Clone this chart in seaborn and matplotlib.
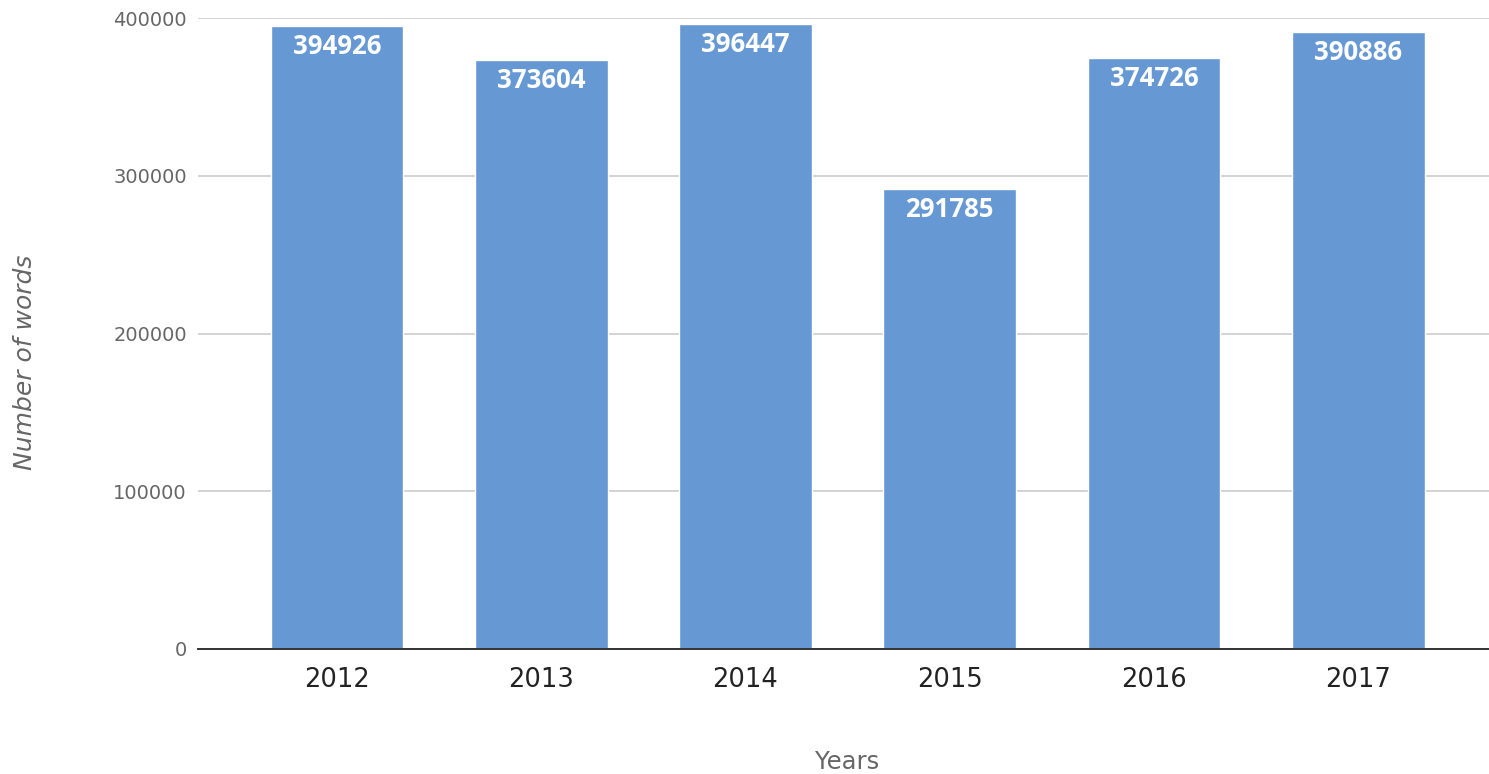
import pandas as pd
import seaborn as sns
from matplotlib import pyplot as plt

# words per year
years = ['2012', '2013', '2014', '2015', '2016', '2017']
words = [394926, 373604, 396447, 291785, 374726, 390886]
y_ticks = [0, 100000, 200000, 300000, 400000]

df = pd.DataFrame({'Years': years, 'Number of words': words})

sns.set_theme(style='white')
plt.rcParams['font.family'] = ['DejaVu Sans']

fig = plt.figure(figsize=(14.89, 7.74), dpi=100)
ax = fig.add_axes([198/1489, 1 - 649/774, 1 - 198/1489, (649 - 18)/774])

sns.barplot(data=df, x='Years', y='Number of words', color='#6699d4',
            saturation=1, width=0.65, ax=ax, zorder=2)

ax.set_xlim(-0.68, 5.64)
ax.set_ylim(0, 400000)
ax.set_yticks(y_ticks)
ax.set_yticklabels([str(t) for t in y_ticks])
ax.yaxis.grid(True, color='#cccccc', linewidth=1.2, zorder=0)
ax.set_axisbelow(True)

for s in ['top', 'right', 'left']:
    ax.spines[s].set_visible(False)
ax.spines['bottom'].set_color('#333333')
ax.spines['bottom'].set_linewidth(1.4)
ax.spines['bottom'].set_zorder(3)

ax.tick_params(axis='y', length=0, pad=8, labelsize=14, labelcolor='#666666')
ax.tick_params(axis='x', length=0, pad=13, labelsize=18.5, labelcolor='#222222')

# value labels inside the bar tops
for bar, val in zip(ax.patches, words):
    ax.annotate(str(val), (bar.get_x() + bar.get_width() / 2, bar.get_height()),
                xytext=(0, -5), textcoords='offset points', ha='center', va='top',
                color='white', fontsize=18.5, fontweight='bold',
                family=['Open Sans', 'DejaVu Sans'])

ax.set_xlabel('Years', fontsize=17.5, color='#666666', va='center')
ax.xaxis.set_label_coords(0.503, -0.179)
ax.set_ylabel('Number of words', fontsize=18, color='#666666', style='italic',
              va='center')
ax.yaxis.set_label_coords(-0.134, 0.454)

fig.savefig('out.png', dpi=100)
